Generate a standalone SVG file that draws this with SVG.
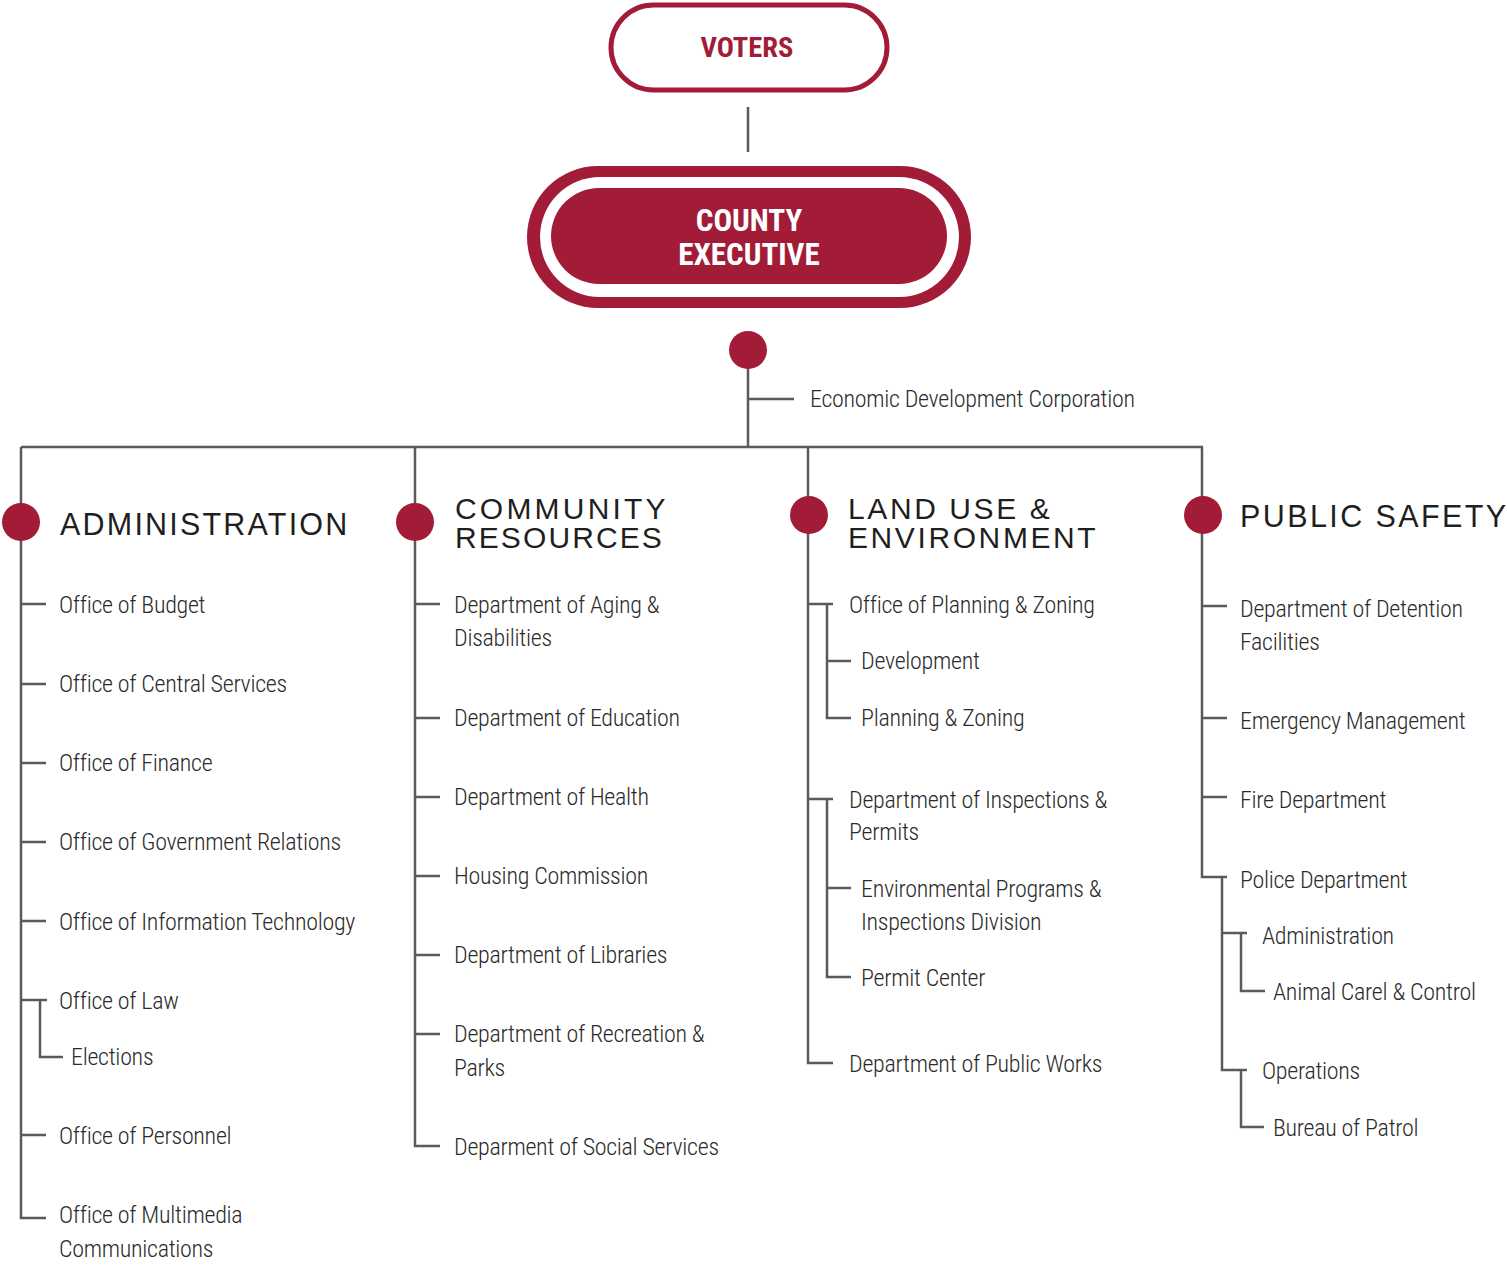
<svg xmlns="http://www.w3.org/2000/svg" width="1507" height="1265" viewBox="0 0 1507 1265">
<style>
.t{font-family:"Roboto Condensed","Liberation Sans Narrow","Liberation Sans",sans-serif;font-weight:300;font-size:24px;letter-spacing:-0.3px;fill:#2b2b2b}
.h{font-family:"Liberation Sans","Arial",sans-serif;font-size:30.5px;fill:#1f1f1f;letter-spacing:1.9px}
.h2{font-size:30px}
.b{font-family:"Roboto Condensed","Liberation Sans Narrow","Liberation Sans",sans-serif;font-weight:bold;font-size:31px;text-anchor:middle}
.l{fill:none;stroke:#5a5a5a;stroke-width:2.5}
.dot{fill:#a21c37}
</style>
<rect width="1507" height="1265" fill="#fff"/>
<g id="connectors" class="l">
<path d="M748 107V152"/>
<path d="M748 350V447M748 399H794"/>
<path d="M21 447H1203"/>
<path d="M21 447V1218H46M21 604H46M21 684H46M21 763H46M21 842H46M21 921H46M21 1000H47M40 1000V1057H63M21 1135H46"/>
<path d="M415 447V1146H440M415 604H440M415 718H440M415 797H440M415 876H440M415 955H440M415 1034H440"/>
<path d="M808 447V1063H833M808 604H833M827 604V718H851M827 661H851M808 799H833M827 799V977H851M827 888H851"/>
<path d="M1202 447V877H1227M1202 606H1227M1202 718H1227M1202 797H1227M1222 877V1070H1247M1222 933H1247M1241 933V991H1265M1241 1070V1127H1264"/>
</g>
<g id="voters">
<rect x="611" y="5" width="276" height="85" rx="42.5" fill="#fff" stroke="#a21c37" stroke-width="5"/>
<text class="b" x="747" y="57" fill="#a21c37" style="font-size:28.5px">VOTERS</text>
</g>
<g id="county-executive">
<rect x="527" y="166" width="444" height="142" rx="71" fill="#a21c37"/>
<rect x="540" y="177" width="419" height="120" rx="60" fill="#fff"/>
<rect x="551" y="188" width="396" height="96" rx="48" fill="#a21c37"/>
<text class="b" x="749" y="231" fill="#fff">COUNTY</text>
<text class="b" x="749" y="265" fill="#fff">EXECUTIVE</text>
</g>
<g id="exec-dot"><circle class="dot" cx="748" cy="350" r="19"/></g>
<g id="edc"><text class="t" x="810" y="407">Economic Development Corporation</text></g>
<g id="administration">
<circle class="dot" cx="21" cy="522" r="19"/>
<text class="h" x="60" y="535" style="letter-spacing:2.2px">ADMINISTRATION</text>
<text class="t" x="59" y="613">Office of Budget</text>
<text class="t" x="59" y="692">Office of Central Services</text>
<text class="t" x="59" y="771">Office of Finance</text>
<text class="t" x="59" y="850">Office of Government Relations</text>
<text class="t" x="59" y="930">Office of Information Technology</text>
<text class="t" x="59" y="1009">Office of Law</text>
<text class="t" x="71" y="1065">Elections</text>
<text class="t" x="59" y="1144">Office of Personnel</text>
<text class="t" x="59" y="1223">Office of Multimedia</text>
<text class="t" x="59" y="1257">Communications</text>
</g>
<g id="community-resources">
<circle class="dot" cx="415" cy="522" r="19"/>
<text class="h h2" x="455" y="519" style="letter-spacing:3.2px">COMMUNITY</text>
<text class="h h2" x="455" y="548" style="letter-spacing:2.1px">RESOURCES</text>
<text class="t" x="454" y="613">Department of Aging &amp;</text>
<text class="t" x="454" y="646">Disabilities</text>
<text class="t" x="454" y="726">Department of Education</text>
<text class="t" x="454" y="805">Department of Health</text>
<text class="t" x="454" y="884">Housing Commission</text>
<text class="t" x="454" y="963">Department of Libraries</text>
<text class="t" x="454" y="1042">Department of Recreation &amp;</text>
<text class="t" x="454" y="1076">Parks</text>
<text class="t" x="454" y="1155">Deparment of Social Services</text>
</g>
<g id="land-use">
<circle class="dot" cx="809" cy="515" r="19"/>
<text class="h h2" x="848" y="519" style="letter-spacing:2.6px">LAND USE &amp;</text>
<text class="h h2" x="848" y="548" style="letter-spacing:2.6px">ENVIRONMENT</text>
<text class="t" x="849" y="613">Office of Planning &amp; Zoning</text>
<text class="t" x="861" y="669">Development</text>
<text class="t" x="861" y="726">Planning &amp; Zoning</text>
<text class="t" x="849" y="808">Department of Inspections &amp;</text>
<text class="t" x="849" y="840">Permits</text>
<text class="t" x="861" y="897">Environmental Programs &amp;</text>
<text class="t" x="861" y="930">Inspections Division</text>
<text class="t" x="861" y="986">Permit Center</text>
<text class="t" x="849" y="1072">Department of Public Works</text>
</g>
<g id="public-safety">
<circle class="dot" cx="1203" cy="515" r="19"/>
<text class="h" x="1240" y="527" style="letter-spacing:2.4px">PUBLIC SAFETY</text>
<text class="t" x="1240" y="617">Department of Detention</text>
<text class="t" x="1240" y="650">Facilities</text>
<text class="t" x="1240" y="729">Emergency Management</text>
<text class="t" x="1240" y="808">Fire Department</text>
<text class="t" x="1240" y="888">Police Department</text>
<text class="t" x="1262" y="944">Administration</text>
<text class="t" x="1273" y="1000">Animal Carel &amp; Control</text>
<text class="t" x="1262" y="1079">Operations</text>
<text class="t" x="1273" y="1136">Bureau of Patrol</text>
</g>
</svg>
